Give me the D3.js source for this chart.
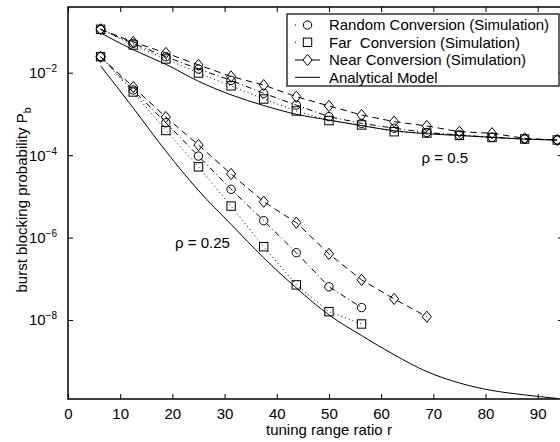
<!DOCTYPE html>
<html><head><meta charset="utf-8">
<script src="https://cdn.jsdelivr.net/npm/d3@7"></script>
<style>
body{margin:0;background:#fff}
svg{display:block}
text{font-family:"Liberation Sans",Arial,Helvetica,sans-serif;fill:#000}
</style>
</head><body>
<svg id="chart" width="560" height="442"></svg>
<script>
// ---- data ----
const ratios = [6.25,12.5,18.75,25,31.25,37.5,43.75,50,56.25,62.5,68.75,75,81.25,87.5,93.75];
// rho = 0.5
const hiRandom = [0.113,0.0516,0.0244,0.0123,0.0065,0.00316,0.00164,0.00086,0.00059,0.00045,0.000354,0.000308,0.000271,0.000246,0.000233];
const hiFar    = [0.113,0.047,0.0215,0.0098,0.0048,0.0023,0.00118,0.00069,0.00054,0.00037,0.000344,0.0003,0.000268,0.000246,0.000233];
const hiNear   = [0.113,0.0556,0.0301,0.0154,0.0081,0.0050,0.00262,0.00156,0.00094,0.00065,0.00051,0.00037,0.00034,0.000255,0.000233];
const hiModel  = [0.092,0.036,0.016,0.0062,0.0029,0.0016,0.00098,0.00071,0.00052,0.00039,0.00033,0.0003,0.00027,0.000245,0.000232];
// rho = 0.25
const loRandom = [0.0244,0.0038,0.00061,9.5e-5,1.48e-5,2.57e-6,4.3e-7,6.4e-8,2.0e-8];
const loFar    = [0.0244,0.0034,0.000396,5.2e-5,5.8e-6,6.0e-7,7.1e-8,1.59e-8,8.0e-9];
const loNear   = [0.0244,0.0045,0.00084,1.76e-4,3.49e-5,7.4e-6,2.3e-6,4.0e-7,9.4e-8,3.24e-8,1.2e-8];
const loModel  = [0.0146,1.39e-3,1.25e-4,1.39e-5,2.09e-6,3.22e-7,6.0e-8,1.33e-8,4.2e-9,1.43e-9,5.6e-10,2.96e-10,1.95e-10,1.52e-10,1.25e-10];

const xTicks = [0,10,20,30,40,50,60,70,80,90];
const yTicks = [1e-2,1e-4,1e-6,1e-8];
const yTickExp = ["\u22122","\u22124","\u22126","\u22128"];
const legendLabels = ["Random Conversion (Simulation)","Far  Conversion (Simulation)","Near Conversion (Simulation)","Analytical Model"];
const xLabel = "tuning range ratio  r";
const yLabel = "burst blocking probability P";
const rhoLabels = ["\u03c1 = 0.5","\u03c1 = 0.25"];
const xLim = [0, 94.85];
const yLim = [1.21e-10, 0.393];

// ---- setup ----
const svg = d3.select("#chart");
const L = 68, R = 563, T = 7, B = 399;
const x = d3.scaleLinear().domain(xLim).range([L, R]);
const y = d3.scaleLog().domain(yLim).range([B, T]);

svg.append("defs").append("clipPath").attr("id","clip")
  .append("rect").attr("x",L).attr("y",T).attr("width",R-L).attr("height",B-T);

const styles = {
  random: {dash:"6,3,1,3", marker:"circle"},
  far:    {dash:"1,3",     marker:"square"},
  near:   {dash:"6.5,4.5", marker:"diamond"},
  model:  {dash:null,      marker:null}
};

const series = [
  {xs:ratios, ys:hiModel, s:"model"},
  {xs:ratios, ys:loModel, s:"model"},
  {xs:ratios, ys:hiRandom, s:"random"},
  {xs:ratios, ys:hiFar, s:"far"},
  {xs:ratios, ys:hiNear, s:"near"},
  {xs:ratios, ys:loRandom, s:"random"},
  {xs:ratios, ys:loFar, s:"far"},
  {xs:ratios, ys:loNear, s:"near"}
];

const plot = svg.append("g").attr("clip-path","url(#clip)");
const line = d3.line().x(d=>x(d[0])).y(d=>y(d[1]));
const smooth = d3.line().x(d=>x(d[0])).y(d=>y(d[1])).curve(d3.curveMonotoneX);

function drawMarker(g, kind, cx, cy){
  if(kind==="circle") g.append("circle").attr("cx",cx).attr("cy",cy).attr("r",4.2);
  else if(kind==="square") g.append("rect").attr("x",cx-4.2).attr("y",cy-4.2).attr("width",8.4).attr("height",8.4);
  else if(kind==="diamond") g.append("path").attr("d",`M${cx},${cy-5.6}L${cx+4.6},${cy}L${cx},${cy+5.6}L${cx-4.6},${cy}Z`);
}

series.forEach(se=>{
  const pts = se.ys.map((v,i)=>[se.xs[i], v]);
  const st = styles[se.s];
  plot.append("path").datum(pts)
    .attr("d", se.s==="model" ? smooth : line)
    .attr("fill","none").attr("stroke","#000").attr("stroke-width",1)
    .attr("stroke-dasharray", st.dash);
});
series.forEach(se=>{
  const st = styles[se.s];
  if(!st.marker) return;
  const g = plot.append("g").attr("fill","none").attr("stroke","#000").attr("stroke-width",1);
  se.ys.forEach((v,i)=>drawMarker(g, st.marker, x(se.xs[i]), y(v)));
});

// ---- axes ----
const ax = svg.append("g");
ax.append("g").attr("transform",`translate(0,${B})`)
  .call(d3.axisBottom(x).tickValues(xTicks).tickSizeInner(-5).tickSizeOuter(0).tickPadding(9).tickFormat(d3.format("d")))
  .call(g=>{g.select(".domain").remove(); g.selectAll("text").attr("font-size",15).attr("font-family",null);});
ax.append("g").attr("transform",`translate(0,${T})`)
  .call(d3.axisTop(x).tickValues(xTicks).tickSizeInner(-5).tickSizeOuter(0).tickFormat(""))
  .call(g=>g.select(".domain").remove());
ax.append("g").attr("transform",`translate(${L},0)`)
  .call(d3.axisLeft(y).tickValues(yTicks).tickSizeInner(-5).tickSizeOuter(0).tickFormat(""))
  .call(g=>g.select(".domain").remove());
ax.append("g").attr("transform",`translate(${R},0)`)
  .call(d3.axisRight(y).tickValues(yTicks).tickSizeInner(-5).tickSizeOuter(0).tickFormat(""))
  .call(g=>g.select(".domain").remove());
ax.selectAll(".tick line").attr("stroke","#000").attr("stroke-width",1);

// y tick labels with superscripts
yTicks.forEach((v,i)=>{
  const t = svg.append("text").attr("x",57).attr("y",y(v)+5.5).attr("text-anchor","end").attr("font-size",15);
  t.append("tspan").text("10");
  t.append("tspan").attr("dy",-6).attr("font-size",10).text(yTickExp[i]);
});

// frame
svg.append("rect").attr("x",L).attr("y",T).attr("width",R-L).attr("height",B-T)
  .attr("fill","none").attr("stroke","#000").attr("stroke-width",1.5);

// axis labels
svg.append("text").attr("x",x(50)).attr("y",435).attr("text-anchor","middle").attr("font-size",15).text(xLabel);
const yl = svg.append("text").attr("transform","translate(27,200) rotate(-90)").attr("text-anchor","middle").attr("font-size",15);
yl.append("tspan").text(yLabel);
yl.append("tspan").attr("dy",4).attr("font-size",10.5).text("b");

// rho labels
svg.append("text").attr("x",421.5).attr("y",163).attr("font-size",15).text(rhoLabels[0]);
svg.append("text").attr("x",175).attr("y",248.3).attr("font-size",15).text(rhoLabels[1]);

// ---- legend ----
const lg = svg.append("g");
lg.append("rect").attr("x",287).attr("y",14).attr("width",272).attr("height",72)
  .attr("fill","#fff").attr("stroke","#000").attr("stroke-width",1.2);
const legendKeys = ["random","far","near","model"];
const legendDash = ["1,7,1,30","1,7,1,30",null,null];
const legendWidths = [220, 191, 197, 108.5];
const rowY = [25,42.3,60,77.3];
legendKeys.forEach((k,i)=>{
  const st = styles[k];
  lg.append("line").attr("x1",295).attr("x2",320).attr("y1",rowY[i]).attr("y2",rowY[i])
    .attr("stroke","#000").attr("stroke-width",1).attr("stroke-dasharray",legendDash[i]);
  if(st.marker){
    const g = lg.append("g").attr("fill","#fff").attr("stroke","#000").attr("stroke-width",1);
    drawMarker(g, st.marker, 307.5, rowY[i]);
  }
  lg.append("text").attr("x",329).attr("y",rowY[i]+5.3).attr("font-size",15)
    .attr("textLength",legendWidths[i]).attr("lengthAdjust","spacingAndGlyphs")
    .style("white-space","pre").text(legendLabels[i]);
});
</script>
</body></html>
